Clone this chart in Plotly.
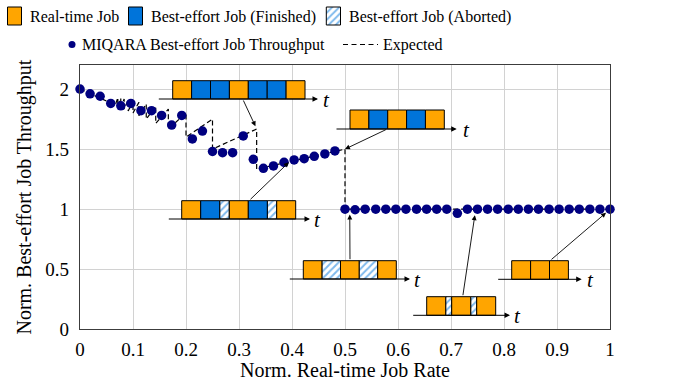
import plotly.graph_objects as go

# ---------------- data ----------------
# MIQARA measured throughput, real-time rate below 0.5
rate_low = [0.0, 0.019, 0.038, 0.058, 0.077, 0.096, 0.115, 0.135, 0.154, 0.173,
            0.192, 0.212, 0.231, 0.250, 0.269, 0.288, 0.308, 0.327, 0.346, 0.365,
            0.385, 0.404, 0.423, 0.442, 0.462, 0.481]
thr_low = [2.00, 1.96, 1.94, 1.88, 1.86, 1.88, 1.82, 1.82, 1.78, 1.70,
           1.78, 1.585, 1.65, 1.48, 1.47, 1.47, 1.61, 1.415, 1.34, 1.36,
           1.39, 1.41, 1.42, 1.44, 1.46, 1.485]
# MIQARA measured throughput, real-time rate from 0.5 up
rate_high = [0.500, 0.519, 0.538, 0.558, 0.577, 0.596, 0.615, 0.635, 0.654, 0.673,
             0.692, 0.712, 0.731, 0.750, 0.769, 0.788, 0.808, 0.827, 0.846, 0.865,
             0.885, 0.904, 0.923, 0.942, 0.962, 0.981, 1.000]
thr_high = [1.00, 0.995, 1.00, 1.00, 1.00, 1.00, 1.00, 1.00, 1.00, 1.00,
            1.00, 0.965, 1.00, 1.00, 1.00, 1.00, 1.00, 1.00, 1.00, 1.00,
            1.00, 1.00, 1.00, 1.00, 1.00, 1.00, 1.00]
# expected throughput (vertices of the saw-tooth curve)
exp_rate = [0.0, 0.0667, 0.0714, 0.0714, 0.0769, 0.0769, 0.0833, 0.0833, 0.0909, 0.0909,
            0.1, 0.1, 0.1111, 0.1111, 0.125, 0.125, 0.1429, 0.1429, 0.1667, 0.1667,
            0.2, 0.2, 0.25, 0.25, 0.3333, 0.3333, 0.5, 0.5, 1.0]
exp_thr = [2.0, 1.867, 1.929, 1.857, 1.923, 1.846, 1.917, 1.833, 1.909, 1.818,
           1.9, 1.8, 1.889, 1.778, 1.875, 1.75, 1.857, 1.714, 1.833, 1.667,
           1.8, 1.6, 1.75, 1.5, 1.667, 1.333, 1.5, 1.0, 1.0]

x_ticks = [0, 0.1, 0.2, 0.3, 0.4, 0.5, 0.6, 0.7, 0.8, 0.9, 1.0]
x_tick_labels = ["0", "0.1", "0.2", "0.3", "0.4", "0.5", "0.6", "0.7", "0.8", "0.9", "1"]
y_ticks = [0, 0.5, 1, 1.5, 2]
y_tick_labels = ["0", "0.5", "1", "1.5", "2"]

legend_labels = ["Real-time Job", "Best-effort Job (Finished)", "Best-effort Job (Aborted)",
                 "MIQARA Best-effort Job Throughput", "Expected"]

# ---------------- styling / geometry ----------------
W, H = 699, 381
PL, PR, PT, PB = 80, 610, 65, 329.3          # plot box in pixels
ORANGE = "#FFA500"
BLUE = "#0074DA"
NAVY = "#000080"
SERIF = "Liberation Serif"
Y_MAX = 2.2


def to_data(px, py):
    """pixel position -> main-axis data coordinates"""
    return (px - PL) / (PR - PL), (PB - py) / (PB - PT) * Y_MAX


fig = go.Figure()

# expected curve
fig.add_trace(go.Scatter(x=exp_rate, y=exp_thr, mode="lines",
                         line=dict(color="black", width=1.2, dash="5px,3px"),
                         hoverinfo="skip", showlegend=False, xaxis="x", yaxis="y"))
# measured throughput
fig.add_trace(go.Scatter(x=rate_low + rate_high, y=thr_low + thr_high, mode="markers",
                         marker=dict(color=NAVY, size=9.5, line=dict(width=0)),
                         cliponaxis=False, showlegend=False, xaxis="x", yaxis="y"))

shapes = []
annotations = []


def box(x0, y0, x1, y1, kind):
    """one job block of a timeline (pixel coordinates on the overlay axes)"""
    if kind == "H":
        fig.add_trace(go.Scatter(
            x=[x0, x1, x1, x0, x0], y=[y0, y0, y1, y1, y0], mode="lines",
            fill="toself", fillcolor="white",
            fillpattern=dict(shape="/", fgcolor=BLUE, bgcolor="white", size=5, solidity=0.4),
            line=dict(color="black", width=1), hoverinfo="skip", showlegend=False,
            xaxis="x2", yaxis="y2"))
    else:
        shapes.append(dict(type="rect", xref="x2", yref="y2", x0=x0, x1=x1, y0=y0, y1=y1,
                           fillcolor=ORANGE if kind == "O" else BLUE,
                           line=dict(color="black", width=1), layer="above"))


# timeline insets: left edge, top, bottom, blocks, axis start/end, label x, arrow tail, arrow tip
insets = [
    dict(left=172.7, top=80.7, bot=99.0, blocks=[("O", 18.9), ("B", 18.9), ("B", 18.9), ("O", 18.9),
                                                  ("B", 18.9), ("B", 18.9), ("O", 18.9)],
         ax0=157.3, ax1=318.0, tx=326.5, tail=(242.7, 99.0), tip=(0.331, 1.69)),
    dict(left=350.0, top=110.0, bot=129.0, blocks=[("O", 18.86), ("B", 18.86), ("O", 18.86),
                                                    ("B", 18.86), ("O", 18.86)],
         ax0=335.0, ax1=456.7, tx=466.5, tail=(387.3, 129.0), tip=(0.5, 1.5)),
    dict(left=181.7, top=200.7, bot=219.0, blocks=[("O", 19.0), ("B", 19.0), ("H", 9.6), ("O", 19.0),
                                                    ("B", 19.0), ("H", 9.4), ("O", 19.0)],
         ax0=167.3, ax1=310.0, tx=317.5, tail=(249.0, 200.7), tip=(0.394, 1.39)),
    dict(left=303.3, top=260.7, bot=279.0, blocks=[("O", 18.6), ("H", 18.6), ("O", 18.6),
                                                    ("H", 18.6), ("O", 18.6)],
         ax0=288.3, ax1=410.0, tx=417.5, tail=(350.0, 260.7), tip=(0.509, 0.955)),
    dict(left=426.7, top=296.7, bot=315.3, blocks=[("O", 19.0), ("H", 6.0), ("O", 19.0),
                                                    ("H", 6.0), ("O", 19.0)],
         ax0=411.7, ax1=510.0, tx=517.5, tail=(462.7, 296.7), tip=(0.745, 0.95)),
    dict(left=511.7, top=260.7, bot=279.3, blocks=[("O", 18.9), ("O", 18.9), ("O", 18.9)],
         ax0=496.7, ax1=581.7, tx=590.5, tail=(550.0, 260.7), tip=(0.9925, 0.97)),
]

for ins in insets:
    x = ins["left"]
    for kind, w in ins["blocks"]:
        box(x, ins["top"], x + w, ins["bot"], kind)
        x += w
    # time axis with arrow
    annotations.append(dict(xref="x2", yref="y2", axref="x2", ayref="y2",
                            x=ins["ax1"], y=ins["bot"], ax=ins["ax0"], ay=ins["bot"],
                            text="", showarrow=True, arrowhead=2, arrowsize=1.1,
                            arrowwidth=1, arrowcolor="black"))
    annotations.append(dict(xref="x2", yref="y2", x=ins["tx"], y=ins["bot"] + 0.5,
                            text="<i>t</i>", showarrow=False,
                            font=dict(family=SERIF, size=21, color="black")))
    # pointer from the timeline to the corresponding rate
    tx, ty = to_data(*ins["tail"])
    annotations.append(dict(xref="x", yref="y", axref="x", ayref="y",
                            x=ins["tip"][0], y=ins["tip"][1], ax=tx, ay=ty,
                            text="", showarrow=True, arrowhead=2, arrowsize=1.1,
                            arrowwidth=0.9, arrowcolor="black"))

# ---------------- legend ----------------
LEG_FONT = dict(family=SERIF, size=16, color="black")
box(7.5, 7.0, 21.5, 25.0, "O")
box(128.5, 7.0, 142.5, 25.0, "B")
box(326.3, 7.0, 340.5, 25.0, "H")
for xl, label in [(27.5, legend_labels[0]), (148.5, legend_labels[1]), (346.5, legend_labels[2])]:
    annotations.append(dict(xref="x2", yref="y2", x=xl, y=16.5, text=label, showarrow=False,
                            xanchor="left", yanchor="middle", font=LEG_FONT))
fig.add_trace(go.Scatter(x=[72], y=[44.5], mode="markers", marker=dict(color=NAVY, size=7),
                         hoverinfo="skip", showlegend=False, xaxis="x2", yaxis="y2"))
fig.add_trace(go.Scatter(x=[343, 378], y=[44.5, 44.5], mode="lines",
                         line=dict(color="black", width=1.2, dash="5px,3.5px"),
                         hoverinfo="skip", showlegend=False, xaxis="x2", yaxis="y2"))
annotations.append(dict(xref="x2", yref="y2", x=79.5, y=44.5, text=legend_labels[3],
                        showarrow=False, xanchor="left", yanchor="middle", font=LEG_FONT))
annotations.append(dict(xref="x2", yref="y2", x=381, y=44.5, text=legend_labels[4],
                        showarrow=False, xanchor="left", yanchor="middle", font=LEG_FONT))

AXIS_LINE = "#3c3c3c"
GRID = "#d2d2d2"
TICK_FONT = dict(family=SERIF, size=19, color="black")
TITLE_FONT = dict(family=SERIF, size=20, color="black")

fig.update_layout(
    width=W, height=H,
    margin=dict(l=0, r=0, t=0, b=0),
    paper_bgcolor="white", plot_bgcolor="rgba(0,0,0,0)",
    showlegend=False,
    shapes=shapes, annotations=annotations,
    xaxis=dict(domain=[PL / W, PR / W], range=[0, 1], anchor="y",
               tickvals=x_ticks, ticktext=x_tick_labels, tickfont=TICK_FONT,
               showgrid=True, gridcolor=GRID, gridwidth=1, zeroline=False,
               showline=True, linecolor=AXIS_LINE, linewidth=1.3, mirror=True,
               ticks="", ticklabelstandoff=3, automargin=False,
               title=dict(text="Norm. Real-time Job Rate", font=TITLE_FONT, standoff=2)),
    yaxis=dict(domain=[(H - PB) / H, (H - PT) / H], range=[0, Y_MAX], anchor="x",
               tickvals=y_ticks, ticktext=y_tick_labels, tickfont=TICK_FONT,
               showgrid=True, gridcolor=GRID, gridwidth=1, zeroline=False,
               showline=True, linecolor=AXIS_LINE, linewidth=1.3, mirror=True,
               ticks="", ticklabelstandoff=6, automargin=False,
               title=dict(text="Norm. Best-effort Job Throughput", font=TITLE_FONT, standoff=8)),
    xaxis2=dict(domain=[0, 1], range=[0, W], anchor="y2", visible=False, fixedrange=True),
    yaxis2=dict(domain=[0, 1], range=[H, 0], anchor="x2", visible=False, fixedrange=True),
)

fig.write_html("out.html")
